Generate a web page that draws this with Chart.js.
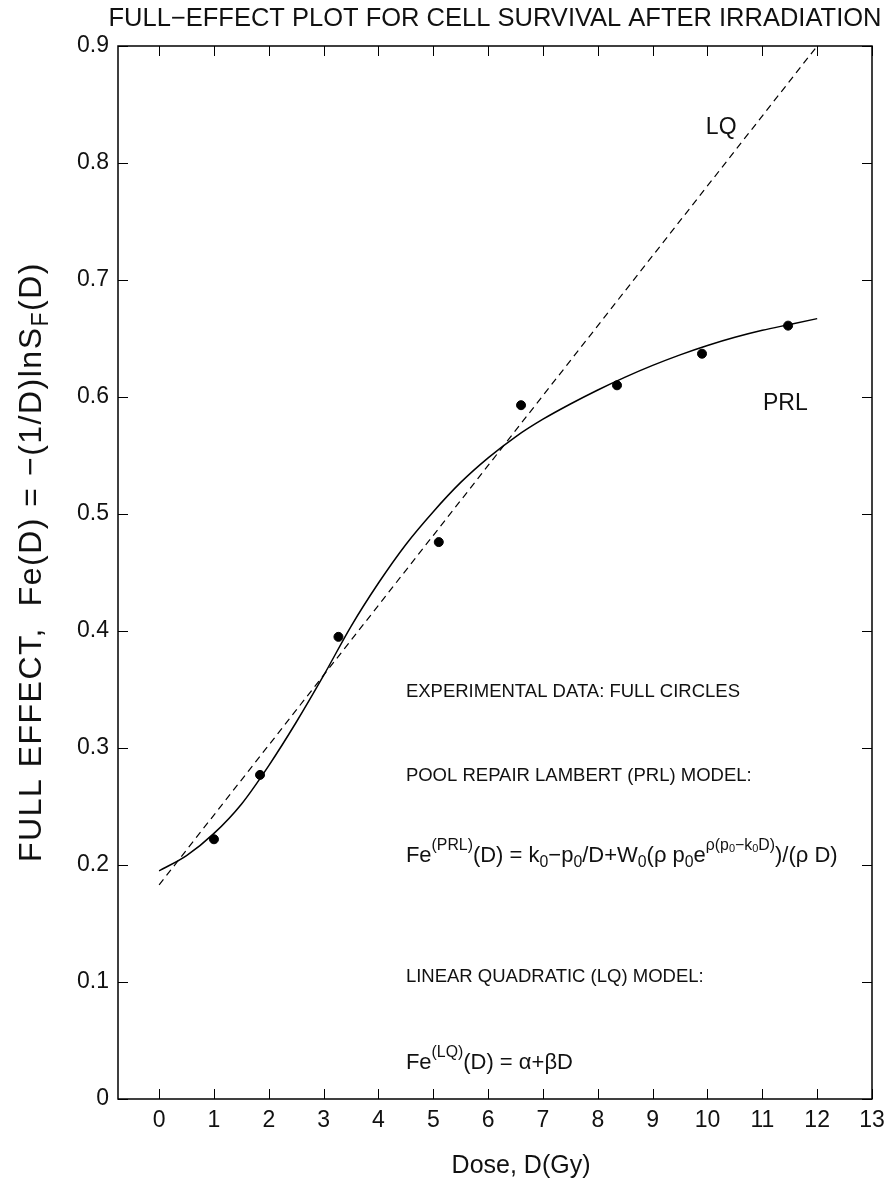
<!DOCTYPE html>
<html>
<head>
<meta charset="utf-8">
<script src="https://cdn.jsdelivr.net/npm/chart.js@4"></script>
<style>
  html, body { margin: 0; padding: 0; background: #fff; }
  #wrap { width: 895px; height: 1187px; }
</style>
</head>
<body>
<div id="wrap"><canvas id="feChart" width="895" height="1187"></canvas></div>
<script>
// experimental points (full circles)
const doseData = [1.0, 1.84, 3.27, 5.1, 6.6, 8.35, 9.9, 11.47];
const feData = [0.222, 0.277, 0.395, 0.476, 0.593, 0.610, 0.637, 0.661];

// PRL model curve
const prlDose = [0, 0.5, 1, 1.5, 2, 2.5, 3, 3.5, 4, 4.5, 5, 5.5, 6, 6.5, 7, 7.5, 8, 8.5, 9, 9.5, 10, 10.5, 11, 11.5, 12];
const prlFe = [0.195, 0.208, 0.227, 0.252, 0.285, 0.322, 0.362, 0.404, 0.441, 0.474, 0.502, 0.527, 0.548, 0.566, 0.581, 0.594, 0.606, 0.617, 0.627, 0.636, 0.644, 0.651, 0.657, 0.662, 0.667];

// LQ model straight line (end points)
const lqDose = [0, 12];
const lqFe = [0.183, 0.9];

const xTicks = [0, 1, 2, 3, 4, 5, 6, 7, 8, 9, 10, 11, 12, 13];
const yTicks = [0, 0.1, 0.2, 0.3, 0.4, 0.5, 0.6, 0.7, 0.8, 0.9];

const FONT = '"Liberation Sans", Arial, Helvetica, sans-serif';

// draws text made of normal / sub / sup pieces
function drawRich(ctx, parts, x, y, size, align) {
  const sizes = { n: size, sub: size * 0.72, sup: size * 0.72, ss: size * 0.5 };
  const shift = { n: 0, sub: size * 0.3, sup: -size * 0.45, ss: -size * 0.3 };
  let total = 0;
  parts.forEach(p => {
    ctx.font = sizes[p[1]] + 'px ' + FONT;
    total += ctx.measureText(p[0]).width;
  });
  let cx = x;
  if (align === 'center') cx = x - total / 2;
  ctx.textAlign = 'left';
  ctx.textBaseline = 'middle';
  parts.forEach(p => {
    ctx.font = sizes[p[1]] + 'px ' + FONT;
    ctx.fillText(p[0], cx, y + shift[p[1]]);
    cx += ctx.measureText(p[0]).width;
  });
}

const framePlugin = {
  id: 'frame',
  afterDraw(chart) {
    const ctx = chart.ctx;
    const a = chart.chartArea;
    const xs = chart.scales.x, ys = chart.scales.y;
    ctx.save();
    ctx.strokeStyle = '#000';
    ctx.lineWidth = 1.5;
    ctx.strokeRect(a.left, a.top, a.right - a.left, a.bottom - a.top);
    // inward ticks
    ctx.lineWidth = 1;
    ctx.beginPath();
    xTicks.forEach(v => {
      const px = Math.round(xs.getPixelForValue(v)) + 0.5;
      ctx.moveTo(px, a.bottom); ctx.lineTo(px, a.bottom - 10);
      ctx.moveTo(px, a.top); ctx.lineTo(px, a.top + 10);
    });
    yTicks.forEach(v => {
      const py = Math.round(ys.getPixelForValue(v)) + 0.5;
      ctx.moveTo(a.left, py); ctx.lineTo(a.left + 10, py);
      ctx.moveTo(a.right, py); ctx.lineTo(a.right - 10, py);
    });
    ctx.stroke();

    ctx.fillStyle = '#111';
    // title
    ctx.font = '25.5px ' + FONT;
    ctx.textAlign = 'center';
    ctx.textBaseline = 'middle';
    ctx.fillText('FULL\u2212EFFECT PLOT FOR CELL SURVIVAL AFTER IRRADIATION', 495, 19);
    // x title
    ctx.font = '25px ' + FONT;
    ctx.fillText('Dose, D(Gy)', xs.getPixelForValue(6.6), 1166);

    // curve labels
    ctx.font = '23px ' + FONT;
    ctx.fillText('LQ', xs.getPixelForValue(10.25), ys.getPixelForValue(0.83));
    ctx.fillText('PRL', xs.getPixelForValue(11.42), ys.getPixelForValue(0.594));

    // notes
    const nx = xs.getPixelForValue(4.5);
    ctx.font = '18.5px ' + FONT;
    ctx.textAlign = 'left';
    ctx.fillText('EXPERIMENTAL DATA: FULL CIRCLES', nx, ys.getPixelForValue(0.348));
    ctx.fillText('POOL REPAIR LAMBERT (PRL) MODEL:', nx, ys.getPixelForValue(0.276));
    ctx.fillText('LINEAR QUADRATIC (LQ) MODEL:', nx, ys.getPixelForValue(0.104));
    drawRich(ctx, [
      ['Fe', 'n'], ['(PRL)', 'sup'], ['(D) = k', 'n'], ['0', 'sub'], ['\u2212p', 'n'], ['0', 'sub'],
      ['/D+W', 'n'], ['0', 'sub'], ['(\u03c1 p', 'n'], ['0', 'sub'], ['e', 'n'],
      ['\u03c1(p', 'sup'], ['0', 'ss'], ['\u2212k', 'sup'], ['0', 'ss'], ['D)', 'sup'],
      [')/(\u03c1 D)', 'n']
    ], nx, ys.getPixelForValue(0.208), 22);
    drawRich(ctx, [['Fe', 'n'], ['(LQ)', 'sup'], ['(D) = \u03b1+\u03b2D', 'n']], nx, ys.getPixelForValue(0.031), 22);

    // y title, rotated
    ctx.translate(32, 562);
    ctx.rotate(-Math.PI / 2);
    ctx.letterSpacing = '1.5px';
    drawRich(ctx, [['FULL EFFECT,  Fe(D) = \u2212(1/D)lnS', 'n'], ['F', 'sub'], ['(D)', 'n']], 0, 0, 32, 'center');
    ctx.letterSpacing = '0px';
    ctx.restore();
  }
};

new Chart(document.getElementById('feChart'), {
  type: 'scatter',
  data: {
    datasets: [
      {
        label: 'LQ',
        data: lqDose.map((d, i) => ({ x: d, y: lqFe[i] })),
        showLine: true,
        borderColor: '#000',
        borderWidth: 1.2,
        borderDash: [7, 5],
        pointRadius: 0,
        fill: false
      },
      {
        label: 'PRL',
        data: prlDose.map((d, i) => ({ x: d, y: prlFe[i] })),
        showLine: true,
        borderColor: '#000',
        borderWidth: 1.5,
        cubicInterpolationMode: 'monotone',
        pointRadius: 0,
        fill: false
      },
      {
        label: 'Experimental',
        data: doseData.map((d, i) => ({ x: d, y: feData[i] })),
        backgroundColor: '#000',
        borderColor: '#000',
        pointRadius: 4.5,
        showLine: false
      }
    ]
  },
  options: {
    responsive: false,
    devicePixelRatio: 1,
    animation: false,
    layout: { padding: { top: 46, right: 23, left: 0, bottom: 0 } },
    plugins: { legend: { display: false }, tooltip: { enabled: false } },
    scales: {
      x: {
        type: 'linear',
        min: -0.75,
        max: 13,
        afterBuildTicks: s => { s.ticks = xTicks.map(v => ({ value: v })); },
        afterFit: s => { s.height = 88; },
        grid: { display: false, drawTicks: false },
        border: { display: false },
        ticks: { color: '#111', font: { family: FONT, size: 23 }, padding: 8, maxRotation: 0, autoSkip: false }
      },
      y: {
        min: 0,
        max: 0.9,
        afterBuildTicks: s => { s.ticks = yTicks.map(v => ({ value: v })); },
        afterFit: s => { s.width = 118; },
        grid: { display: false, drawTicks: false },
        border: { display: false },
        ticks: {
          color: '#111',
          font: { family: FONT, size: 23 },
          padding: 9,
          callback: v => (v === 0 ? '0' : v.toFixed(1))
        }
      }
    }
  },
  plugins: [framePlugin]
});
</script>
</body>
</html>
